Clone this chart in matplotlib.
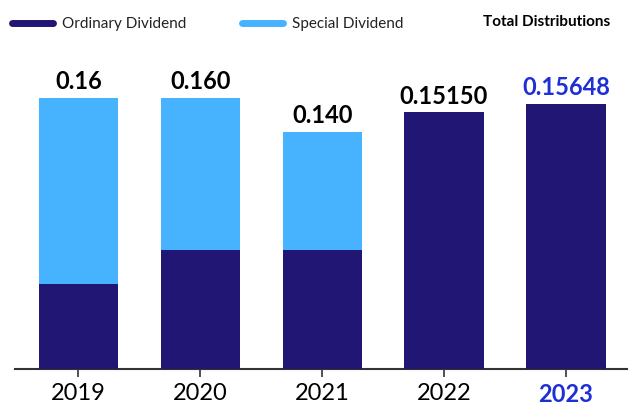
import numpy as np
import matplotlib.pyplot as plt
from matplotlib.lines import Line2D

plt.rcParams['font.family'] = ['Lato', 'DejaVu Sans']

# values
years = ["2019", "2020", "2021", "2022", "2023"]
ordinary = [0.05, 0.07, 0.07, 0.1515, 0.15648]
special = [0.11, 0.09, 0.07, 0.0, 0.0]
totals = ["0.16", "0.160", "0.140", "0.15150", "0.15648"]

navy = '#211673'
light = '#47b3ff'
hl = '#1f2fd6'

fig = plt.figure(figsize=(6.38, 4.12), dpi=100)
ax = fig.add_axes([0.0235, 0.1044, 0.959, 0.774])

x = np.arange(len(years))
w = 0.65
ax.bar(x, ordinary, width=w, color=navy, zorder=2)
ax.bar(x, special, width=w, bottom=ordinary, color=light, zorder=2)

tops = np.add(ordinary, special)
for i, (t, lab) in enumerate(zip(tops, totals)):
    col = hl if i == len(years) - 1 else 'black'
    ax.annotate(lab, (x[i], t), xytext=(0, 3), textcoords='offset points',
                ha='center', va='bottom', fontsize=17, fontweight='bold', color=col)

ax.set_xlim(-0.52, 4.5)
ax.set_ylim(0, 0.188)
ax.set_yticks([])
for s in ['top', 'right', 'left']:
    ax.spines[s].set_visible(False)
ax.spines['bottom'].set_color('#333333')
ax.spines['bottom'].set_linewidth(1.5)
ax.spines['bottom'].set_zorder(1)
ax.set_xticks(x)
ax.set_xticklabels(years, fontsize=17)
ax.tick_params(axis='x', length=6, width=1.2, color='#333333', pad=4)
lbl = ax.get_xticklabels()[-1]
lbl.set_color(hl)
lbl.set_fontweight('bold')

# legend
handles = [Line2D([], [], color=navy, lw=5, solid_capstyle='round'),
           Line2D([], [], color=light, lw=5, solid_capstyle='round')]
leg = fig.legend(handles, ["Ordinary Dividend", "Special Dividend"], loc='center left',
                 bbox_to_anchor=(-0.003, 0.942), ncol=2, frameon=False,
                 prop={'size': 11},
                 handlelength=2.7, columnspacing=3.6, handletextpad=0.6)
for t in leg.get_texts():
    t.set_color('#222222')
fig.text(0.957, 0.947, "Total Distributions", ha='right', va='center',
         fontsize=11, fontweight='bold')

fig.savefig('out.png', dpi=100)
